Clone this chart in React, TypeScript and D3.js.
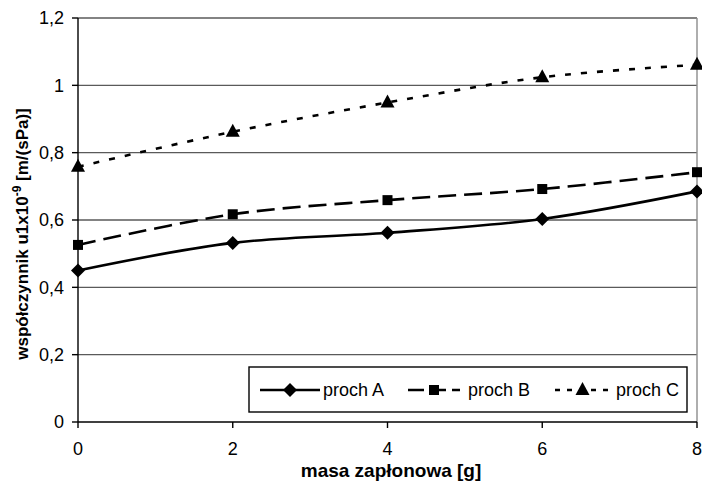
import * as d3 from "d3";

const masses = [0, 2, 4, 6, 8];
const prochA = [0.45, 0.532, 0.562, 0.603, 0.685];
const prochB = [0.526, 0.617, 0.659, 0.692, 0.742];
const prochC = [0.758, 0.862, 0.949, 1.024, 1.061];
const seriesNames = ["proch A", "proch B", "proch C"];
const yTicks = [0, 0.2, 0.4, 0.6, 0.8, 1, 1.2];
const xTicks = [0, 2, 4, 6, 8];

type MarkerProps = { kind: string; x: number; y: number };

function Marker({ kind, x, y }: MarkerProps) {
  if (kind === "diamond") {
    const s = 7;
    return <path d={`M${x},${y - s}L${x + s},${y}L${x},${y + s}L${x - s},${y}Z`} fill="#000" />;
  }
  if (kind === "square") {
    return <rect x={x - 5} y={y - 5} width={10} height={10} fill="#000" />;
  }
  return <path d={`M${x},${y - 8}L${x + 7},${y + 5}L${x - 7},${y + 5}Z`} fill="#000" />;
}

export default function App() {
  const width = 702;
  const height = 491;
  const left = 78;
  const right = 697;
  const top = 18;
  const bottom = 422;
  const font = "'Liberation Sans', Arial, sans-serif";

  const x = d3.scaleLinear().domain([0, 8]).range([left, right]);
  const y = d3.scaleLinear().domain([0, 1.2]).range([bottom, top]);
  const fmt = (v: number) => String(+v.toFixed(1)).replace(".", ",");

  const line = d3
    .line<number>()
    .x((_, i) => x(masses[i]))
    .y((d) => y(d))
    .curve(d3.curveCatmullRom.alpha(0));

  const series = [
    { name: seriesNames[0], values: prochA, dash: undefined, marker: "diamond" },
    { name: seriesNames[1], values: prochB, dash: "18,8", marker: "square" },
    { name: seriesNames[2], values: prochC, dash: "6,10", marker: "triangle" },
  ];

  const legendItems = [
    { lx1: 260, lx2: 320, tx: 323, dash: undefined },
    { lx1: 408, lx2: 460, tx: 468, dash: "16,6" },
    { lx1: 555, lx2: 610, tx: 616, dash: "5,7" },
  ];
  const legendY = 390;

  return (
    <svg width={width} height={height} style={{ position: "absolute", left: 0, top: 0 }}>
      <rect width={width} height={height} fill="#fff" />
      {yTicks.slice(1).map((t) => (
        <line key={t} x1={left} x2={right} y1={y(t)} y2={y(t)} stroke="#5a5a5a" strokeWidth={1.4} />
      ))}
      <line x1={right} x2={right} y1={top} y2={bottom} stroke="#8c8c8c" strokeWidth={1.4} />
      <line x1={left} x2={left} y1={top} y2={bottom} stroke="#000" strokeWidth={1.4} />
      <line x1={left} x2={right} y1={bottom} y2={bottom} stroke="#000" strokeWidth={1.4} />
      {yTicks.map((t) => (
        <g key={t}>
          <line x1={left - 6} x2={left} y1={y(t)} y2={y(t)} stroke="#000" strokeWidth={1.4} />
          <text x={64} y={y(t)} dy="0.36em" textAnchor="end" fontFamily={font} fontSize={18}>
            {fmt(t)}
          </text>
        </g>
      ))}
      {xTicks.map((t) => (
        <g key={t}>
          <line x1={x(t)} x2={x(t)} y1={bottom} y2={bottom + 6} stroke="#000" strokeWidth={1.4} />
          <text x={x(t)} y={455} textAnchor="middle" fontFamily={font} fontSize={18}>
            {t}
          </text>
        </g>
      ))}
      {series.map((s) => (
        <g key={s.name}>
          <path d={line(s.values) || ""} fill="none" stroke="#000" strokeWidth={2.6} strokeDasharray={s.dash} />
          {s.values.map((v, i) => (
            <Marker key={i} kind={s.marker} x={x(masses[i])} y={y(v)} />
          ))}
        </g>
      ))}
      <rect x={249} y={367} width={438} height={45} fill="#fff" stroke="#000" strokeWidth={1.4} />
      {series.map((s, i) => {
        const it = legendItems[i];
        return (
          <g key={s.name}>
            <line x1={it.lx1} x2={it.lx2} y1={legendY} y2={legendY} stroke="#000" strokeWidth={2.6} strokeDasharray={it.dash} />
            <Marker kind={s.marker} x={(it.lx1 + it.lx2) / 2} y={legendY} />
            <text x={it.tx} y={legendY} dy="0.36em" fontFamily={font} fontSize={18}>
              {s.name}
            </text>
          </g>
        );
      })}
      <text x={391} y={477} textAnchor="middle" fontFamily={font} fontSize={19} fontWeight="bold">
        masa zapłonowa [g]
      </text>
      <text transform="translate(28,234) rotate(-90)" textAnchor="middle" fontFamily={font} fontSize={17} fontWeight="bold">
        współczynnik u1x10<tspan dy={-7} fontSize={12}>-9</tspan>
        <tspan dy={7}> [m/(sPa)]</tspan>
      </text>
    </svg>
  );
}
